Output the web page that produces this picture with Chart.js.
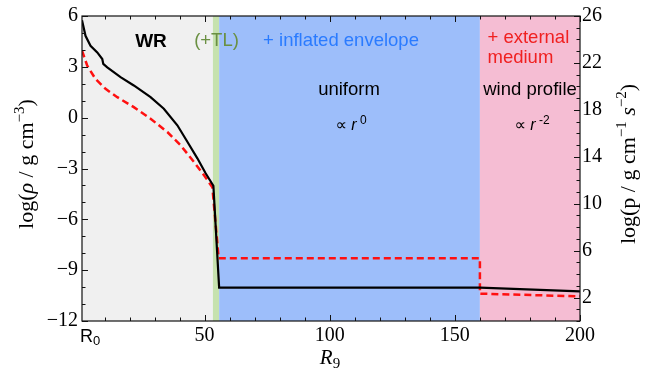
<!DOCTYPE html>
<html><head><meta charset="utf-8">
<script src="https://cdn.jsdelivr.net/npm/chart.js@4.4.1/dist/chart.umd.min.js"></script>
<style>html,body{margin:0;padding:0;background:#fff}#wrap{width:650px;height:376px}</style>
</head><body><div id="wrap"><canvas id="c" width="650" height="376"></canvas></div>
<script>
// ---- data ----
const radiusRho = [1.0, 2.4, 4.4, 7.1, 9.1, 9.5, 11.1, 16.4, 21.7, 28.4, 33.7, 39.1, 43.1, 47.1, 50.4, 53.5, 55.8, 160, 200];
const logRho    = [5.75, 4.83, 4.24, 3.85, 3.46, 3.17, 2.97, 2.39, 1.9, 1.21, 0.53, -0.45, -1.42, -2.4, -3.28, -4.02, -10.03, -10.03, -10.25];
const radiusP   = [1.0, 3.1, 6.4, 10.4, 15.1, 21.7, 28.4, 35.1, 40.4, 45.7, 49.7, 53.1, 55.6, 160, 160, 200];
const logP      = [23.05, 21.76, 20.63, 19.79, 19.08, 18.23, 17.24, 16.11, 14.98, 13.57, 12.44, 11.4, 5.35, 5.35, 2.33, 2.1];
const regionEdges = [1, 53.3, 55.8, 160, 200];
const xTicks   = [1, 50, 100, 150, 200];
const rhoTicks = [-12, -9, -6, -3, 0, 3, 6];
const pTicks   = [2, 6, 10, 14, 18, 22, 26];

// ---- styles ----
const regionColors = ['#f0f0f0', '#c6e2ae', '#9dbefa', '#f5bdd3'];
const SANS = '"Liberation Sans", "DejaVu Sans", sans-serif';
const SERIF = '"Liberation Serif", "DejaVu Serif", serif';

function fmt(v){ return v < 0 ? '\u2212' + Math.abs(v) : String(v); }

function drawRich(ctx, segs, x, y, align){
  let w = 0;
  segs.forEach(s => { ctx.font = s.font; s.w = ctx.measureText(s.t).width; w += s.w; });
  let cx = align === 'left' ? x : x - w/2;
  ctx.textBaseline = 'alphabetic'; ctx.textAlign = 'left';
  segs.forEach(s => { ctx.font = s.font; ctx.fillStyle = s.color || '#000'; ctx.fillText(s.t, cx, y + (s.dy||0)); cx += s.w; });
}

const bgPlugin = {
  id: 'bg',
  beforeDatasetsDraw(chart){
    const {ctx, chartArea:a, scales:{x}} = chart;
    ctx.save();
    for (let i = 0; i < regionEdges.length-1; i++){
      const x0 = x.getPixelForValue(regionEdges[i]), x1 = x.getPixelForValue(regionEdges[i+1]);
      ctx.fillStyle = regionColors[i];
      ctx.fillRect(x0, a.top, x1-x0, a.bottom-a.top);
    }
    ctx.restore();
  }
};

const overlayPlugin = {
  id: 'overlay',
  afterDatasetsDraw(chart){
    const {ctx, chartArea:a, scales:{x, y, y2}} = chart;
    ctx.save();
    // frame
    ctx.strokeStyle = '#111'; ctx.lineWidth = 1.2;
    ctx.strokeRect(a.left, a.top, a.right-a.left, a.bottom-a.top);
    // ticks
    ctx.lineWidth = 1;
    ctx.beginPath();
    for (let v = 10; v <= 200; v += 10){
      const px = Math.round(x.getPixelForValue(v)) + 0.5, L = v % 50 === 0 ? 6 : 3.5;
      ctx.moveTo(px, a.bottom); ctx.lineTo(px, a.bottom - L);
      ctx.moveTo(px, a.top); ctx.lineTo(px, a.top + L);
    }
    for (let v = -12; v <= 6; v++){
      const py = Math.round(y.getPixelForValue(v)) + 0.5, L = v % 3 === 0 ? 6 : 3.5;
      ctx.moveTo(a.left, py); ctx.lineTo(a.left + L, py);
    }
    for (let v = 0; v <= 26; v++){
      const py = Math.round(y2.getPixelForValue(v)) + 0.5, L = (v - 2) % 4 === 0 ? 6 : 3.5;
      ctx.moveTo(a.right, py); ctx.lineTo(a.right - L, py);
    }
    ctx.stroke();

    // R0 tick label
    drawRich(ctx, [{t:'R', font:'18px '+SANS}, {t:'0', font:'13px '+SANS, dy:3}], a.left - 2, 342, 'left');

    // region annotations
    const F = '18.5px ' + SANS;
    ctx.textAlign = 'center'; ctx.textBaseline = 'alphabetic';
    ctx.font = 'bold 19px ' + SANS; ctx.fillStyle = '#000';
    ctx.fillText('WR', 151, 47);
    ctx.font = F; ctx.fillStyle = '#6a9042';
    ctx.fillText('(+TL)', 216.5, 46);
    ctx.fillStyle = '#2a7bff';
    ctx.fillText('+ inflated envelope', 341, 46);
    ctx.fillStyle = '#000';
    ctx.fillText('uniform', 349, 95);
    ctx.fillText('wind profile', 530, 95);
    ctx.textAlign = 'left'; ctx.fillStyle = '#f02020';
    ctx.fillText('+ external', 487.5, 43);
    ctx.fillText('medium', 487.5, 63);
    const P = '16px ' + SANS, PI = 'italic 16px ' + SANS, S = '12px ' + SANS;
    drawRich(ctx, [{t:'\u221D ', font:P}, {t:'r', font:PI}, {t:' ', font:S}, {t:'0', font:S, dy:-6}], 351, 130, 'center');
    drawRich(ctx, [{t:'\u221D ', font:P}, {t:'r', font:PI}, {t:' ', font:S}, {t:'-2', font:S, dy:-6}], 532, 130, 'center');

    // axis titles
    const T = '22px ' + SERIF, TI = 'italic 22px ' + SERIF, TS = '15px ' + SERIF;
    ctx.save(); ctx.translate(33, 164); ctx.rotate(-Math.PI/2);
    drawRich(ctx, [{t:'log(', font:T}, {t:'\u03C1', font:TI}, {t:' / g cm', font:T}, {t:'\u22123', font:TS, dy:-9}, {t:')', font:T}], 0, 0, 'center');
    ctx.restore();
    ctx.save(); ctx.translate(635, 164); ctx.rotate(-Math.PI/2);
    drawRich(ctx, [{t:'log(p / g cm', font:T}, {t:'\u22121', font:TS, dy:-9}, {t:' ', font:T}, {t:'s', font:TI}, {t:'\u22122', font:TS, dy:-9}, {t:')', font:T}], 0, 0, 'center');
    ctx.restore();
    drawRich(ctx, [{t:'R', font:'italic 21px '+SERIF}, {t:'9', font:'15px '+SERIF, dy:4}], 330, 364, 'center');
    ctx.restore();
  }
};

const tickFont = {family: SERIF, size: 20};
new Chart(document.getElementById('c').getContext('2d'), {
  type: 'line',
  data: { datasets: [
    { label: 'log rho', data: radiusRho.map((r,i)=>({x:r, y:logRho[i]})), yAxisID: 'y',
      borderColor: '#000', borderWidth: 2.2, pointRadius: 0, tension: 0, fill: false },
    { label: 'log p', data: radiusP.map((r,i)=>({x:r, y:logP[i]})), yAxisID: 'y2',
      borderColor: '#ff1010', borderWidth: 2.5, borderDash: [7,4], pointRadius: 0, tension: 0, fill: false }
  ]},
  options: {
    responsive: false, animation: false, devicePixelRatio: 1, events: [],
    layout: { padding: { top: 14, left: 0, right: 0, bottom: 0 } },
    plugins: { legend: { display: false }, tooltip: { enabled: false } },
    scales: {
      x: { type: 'linear', position: 'bottom', min: xTicks[0], max: 200,
        afterBuildTicks: s => { s.ticks = xTicks.map(v => ({value: v})); },
        afterFit: s => { s.height = 55; },
        grid: { display: false, drawTicks: false }, border: { display: false },
        ticks: { font: tickFont, color: '#000', padding: 3, maxRotation: 0, autoSkip: false,
          callback: v => v === xTicks[0] ? '' : String(v) } },
      y: { type: 'linear', position: 'left', min: -12, max: 6,
        afterBuildTicks: s => { s.ticks = rhoTicks.map(v => ({value: v})); },
        afterFit: s => { s.width = 82; },
        grid: { display: false, drawTicks: false }, border: { display: false },
        ticks: { font: tickFont, color: '#000', padding: 4, autoSkip: false, callback: v => fmt(v) } },
      y2: { type: 'linear', position: 'right', min: 0, max: 26,
        afterBuildTicks: s => { s.ticks = pTicks.map(v => ({value: v})); },
        afterFit: s => { s.width = 70; },
        grid: { display: false, drawTicks: false }, border: { display: false },
        ticks: { font: tickFont, color: '#000', padding: 2, autoSkip: false, callback: v => fmt(v) } }
    }
  },
  plugins: [bgPlugin, overlayPlugin]
});
</script></body></html>
